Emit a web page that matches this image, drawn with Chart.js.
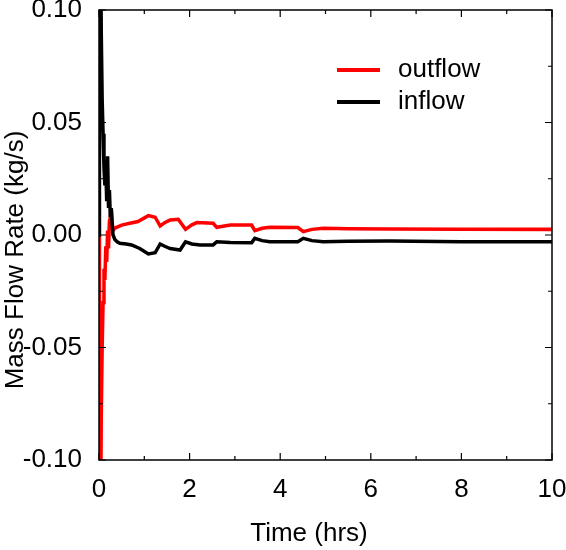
<!DOCTYPE html>
<html lang="en">
<head>
  <meta charset="UTF-8" />
  <title>Mass Flow Rate</title>
  <script src="https://cdn.jsdelivr.net/npm/chart.js"></script>
  <style>
    html, body { margin: 0; padding: 0; background: #fff; }
    #wrap { width: 566px; height: 550px; }
  </style>
</head>
<body>
  <div id="wrap"><canvas id="flowChart" width="566" height="550"></canvas></div>
  <script>
    // data (time in hrs, flow in kg/s)
    const inflowTime = [0, 0.01, 0.03, 0.05, 0.07, 0.09, 0.11, 0.13, 0.15, 0.17, 0.19, 0.21, 0.23, 0.25, 0.27, 0.29, 0.31, 0.35, 0.4, 0.46, 0.6, 0.72, 0.9, 1.09, 1.24, 1.35, 1.45, 1.57, 1.79, 1.91, 2.05, 2.23, 2.52, 2.6, 2.9, 3.37, 3.44, 3.6, 3.77, 4.39, 4.51, 4.7, 4.95, 5.5, 6.42, 8, 10];
    const inflowRate = [0, 0.3, 0.15, 0.09, 0.06, 0.045, 0.03, 0.022, 0.03, 0.015, 0.035, 0.012, 0.02, 0.008, 0.012, 0.005, 0.0, -0.002, -0.003, -0.0037, -0.004, -0.0044, -0.006, -0.0084, -0.0079, -0.004, -0.005, -0.006, -0.0067, -0.003, -0.004, -0.0044, -0.0044, -0.003, -0.0033, -0.0034, -0.0015, -0.0025, -0.003, -0.003, -0.0015, -0.0025, -0.003, -0.0028, -0.0027, -0.003, -0.003];

    const outflowTime = [0, 0.01, 0.03, 0.05, 0.07, 0.09, 0.11, 0.13, 0.15, 0.17, 0.19, 0.21, 0.23, 0.25, 0.27, 0.29, 0.31, 0.35, 0.4, 0.5, 0.68, 0.86, 1.09, 1.24, 1.35, 1.45, 1.57, 1.75, 1.91, 2.05, 2.16, 2.52, 2.6, 2.9, 3.37, 3.44, 3.6, 3.77, 4.39, 4.51, 4.7, 4.95, 5.5, 6.42, 8, 10];
    const outflowRate = [0, -0.3, -0.15, -0.08, -0.05, -0.03, -0.015, -0.02, -0.005, -0.012, 0.002, -0.006, 0.006, 0.008, 0.012, 0.006, 0.002, 0.003, 0.0035, 0.0044, 0.0052, 0.006, 0.0086, 0.0079, 0.004, 0.0055, 0.0067, 0.007, 0.0025, 0.0045, 0.0055, 0.0052, 0.0034, 0.0044, 0.0044, 0.0019, 0.003, 0.0034, 0.0033, 0.0015, 0.0025, 0.003, 0.0028, 0.0027, 0.0026, 0.0025];

    const seriesNames = ['outflow', 'inflow'];
    const seriesColors = ['#ff0000', '#000000'];
    const xTitle = 'Time (hrs)';
    const yTitle = 'Mass Flow Rate (kg/s)';

    const FONT = '"Liberation Sans", Arial, sans-serif';

    function toPoints(xs, ys) {
      return xs.map((x, i) => ({ x: x, y: ys[i] }));
    }

    // frame, inward ticks on all four sides, axis titles and the legend
    const framePlugin = {
      id: 'frame',
      afterDraw(chart) {
        const ctx = chart.ctx;
        const a = chart.chartArea;
        const xs = chart.scales.x, ys = chart.scales.y;
        ctx.save();
        ctx.strokeStyle = '#000';
        ctx.lineWidth = 1.5;
        ctx.strokeRect(a.left, a.top, a.right - a.left, a.bottom - a.top);
        ctx.lineWidth = 1.2;
        ctx.beginPath();
        for (let v = 0; v <= 10; v += 1) {
          const px = xs.getPixelForValue(v);
          const len = v % 2 === 0 ? 7 : 4;
          ctx.moveTo(px, a.bottom); ctx.lineTo(px, a.bottom - len);
          ctx.moveTo(px, a.top); ctx.lineTo(px, a.top + len);
        }
        for (let k = -4; k <= 4; k++) {
          const py = ys.getPixelForValue(k * 0.025);
          const len = k % 2 === 0 ? 7 : 4;
          ctx.moveTo(a.left, py); ctx.lineTo(a.left + len, py);
          ctx.moveTo(a.right, py); ctx.lineTo(a.right - len, py);
        }
        ctx.stroke();

        // axis titles
        ctx.fillStyle = '#000';
        ctx.font = '26px ' + FONT;
        ctx.textAlign = 'center';
        ctx.textBaseline = 'middle';
        ctx.fillText(xTitle, 309, 534);
        ctx.save();
        ctx.translate(16, 260);
        ctx.rotate(-Math.PI / 2);
        ctx.fillText(yTitle, 0, 0);
        ctx.restore();

        // legend
        ctx.textAlign = 'left';
        seriesNames.forEach((name, i) => {
          const y = 70 + i * 32;
          ctx.strokeStyle = seriesColors[i];
          ctx.lineWidth = 4;
          ctx.beginPath();
          ctx.moveTo(337, y); ctx.lineTo(380, y);
          ctx.stroke();
          ctx.fillText(name, 398, y);
        });
        ctx.restore();
      }
    };

    new Chart(document.getElementById('flowChart'), {
      type: 'scatter',
      data: {
        datasets: [
          {
            label: seriesNames[1],
            data: toPoints(inflowTime, inflowRate),
            showLine: true,
            borderColor: seriesColors[1],
            borderWidth: 3.5,
            pointRadius: 0,
            tension: 0
          },
          {
            label: seriesNames[0],
            data: toPoints(outflowTime, outflowRate),
            showLine: true,
            borderColor: seriesColors[0],
            borderWidth: 3.5,
            pointRadius: 0,
            tension: 0
          }
        ]
      },
      options: {
        responsive: false,
        animation: false,
        layout: { padding: { left: 0, right: 14, top: 10, bottom: 0 } },
        plugins: {
          legend: { display: false },
          tooltip: { enabled: false }
        },
        scales: {
          x: {
            type: 'linear',
            min: 0,
            max: 10,
            grid: { display: false },
            border: { display: false },
            ticks: {
              stepSize: 2,
              color: '#000',
              padding: 6,
              font: { family: FONT, size: 26 },
              maxRotation: 0
            },
            afterFit(scale) {
              scale.height = 90;
              scale.paddingLeft = 0;
              scale.paddingRight = 0;
            }
          },
          y: {
            type: 'linear',
            min: -0.1,
            max: 0.1,
            grid: { display: false },
            border: { display: false },
            ticks: {
              stepSize: 0.05,
              color: '#000',
              padding: 9,
              font: { family: FONT, size: 26 },
              callback: v => v.toFixed(2)
            },
            afterFit(scale) {
              scale.width = 99;
              scale.paddingTop = 0;
              scale.paddingBottom = 0;
            }
          }
        }
      },
      plugins: [framePlugin]
    });
  </script>
</body>
</html>
